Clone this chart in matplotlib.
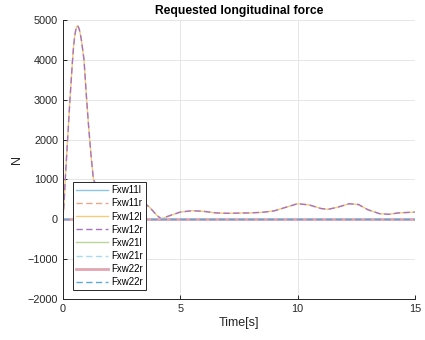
import numpy as np
import matplotlib.pyplot as plt

# time base and requested force for the 12 wheel (both sides carry the same request)
t = np.array([0, 0.05, 0.1, 0.2, 0.3, 0.4, 0.45, 0.5, 0.55, 0.6, 0.65, 0.7, 0.75,
              0.8, 0.9, 1.0, 1.1, 1.2, 1.3, 1.5, 1.8, 2.2, 2.6, 3.0, 3.4, 3.7, 4.0,
              4.2, 4.5, 5.0, 5.5, 6.0, 6.5, 7.0, 7.5, 8.0, 8.5, 9.0, 9.5, 10.0,
              10.5, 11.0, 11.3, 11.7, 12.2, 12.6, 13.0, 13.5, 13.9, 14.3, 15.0])
Fxw12 = np.array([0, 400, 1000, 2000, 3000, 3900, 4300, 4580, 4760, 4850, 4840,
                  4760, 4630, 4450, 4000, 3100, 2300, 1600, 1000, 750, 650, 600,
                  560, 520, 440, 300, 100, 10, 80, 180, 215, 200, 160, 150, 155,
                  160, 175, 210, 300, 390, 360, 270, 250, 300, 390, 370, 240, 140,
                  125, 160, 180])
zero = np.zeros_like(t)

labels = ["Fxw11l", "Fxw11r", "Fxw12l", "Fxw12r", "Fxw21l", "Fxw21r", "Fxw22r", "Fxw22r"]
series = [zero, zero, Fxw12, Fxw12, zero, zero, zero, zero]
colors = ["#8cc4ea", "#eca58a", "#f3cd7a", "#a972c0", "#b9d598", "#a7dcf4", "#e2a6b2", "#5aa8dc"]
styles = ["-", "--", "-", "--", "-", "--", "-", "--"]
widths = [1.0, 1.0, 1.0, 1.0, 1.0, 1.0, 2.0, 1.0]

plt.rcParams['font.family'] = ['Liberation Sans', 'DejaVu Sans']
fig = plt.figure(figsize=(4.25, 3.4), dpi=100)
ax = fig.add_axes([0.148, 0.1206, 0.828, 0.8206])

for y, lab, c, ls, lw in zip(series, labels, colors, styles, widths):
    line, = ax.plot(t, y, linestyle=ls, color=c, lw=lw, label=lab)
    if ls == "--":
        line.set_dashes((4.5, 2.5))

ax.set_xlim(0, 15)
ax.set_ylim(-2000, 5000)
ax.set_xticks([0, 5, 10, 15])
ax.set_yticks(np.arange(-2000, 5001, 1000))
ax.grid(True, color="#e6e6e6", lw=0.7)
ax.set_axisbelow(True)
for s in ["top", "right"]:
    ax.spines[s].set_visible(False)
for s in ["left", "bottom"]:
    ax.spines[s].set_color("#262626")
    ax.spines[s].set_linewidth(0.7)
ax.tick_params(direction="in", labelsize=7.8, colors="#262626", length=3, width=0.7)

ax.set_title("Requested longitudinal force", fontsize=8.7, fontweight="bold", pad=4)
ax.set_xlabel("Time[s]", fontsize=9, color="#262626", labelpad=2)
ax.set_ylabel("N", fontsize=9, color="#262626", labelpad=3)

leg = ax.legend(loc="lower left", bbox_to_anchor=(0.028, 0.032), fontsize=7,
                frameon=True, fancybox=False, edgecolor="#262626",
                handlelength=3.3, handletextpad=0.36, labelspacing=0.32,
                borderpad=0.3, borderaxespad=0, framealpha=1)
leg.get_frame().set_linewidth(0.7)

fig.savefig("out.png", dpi=100)
